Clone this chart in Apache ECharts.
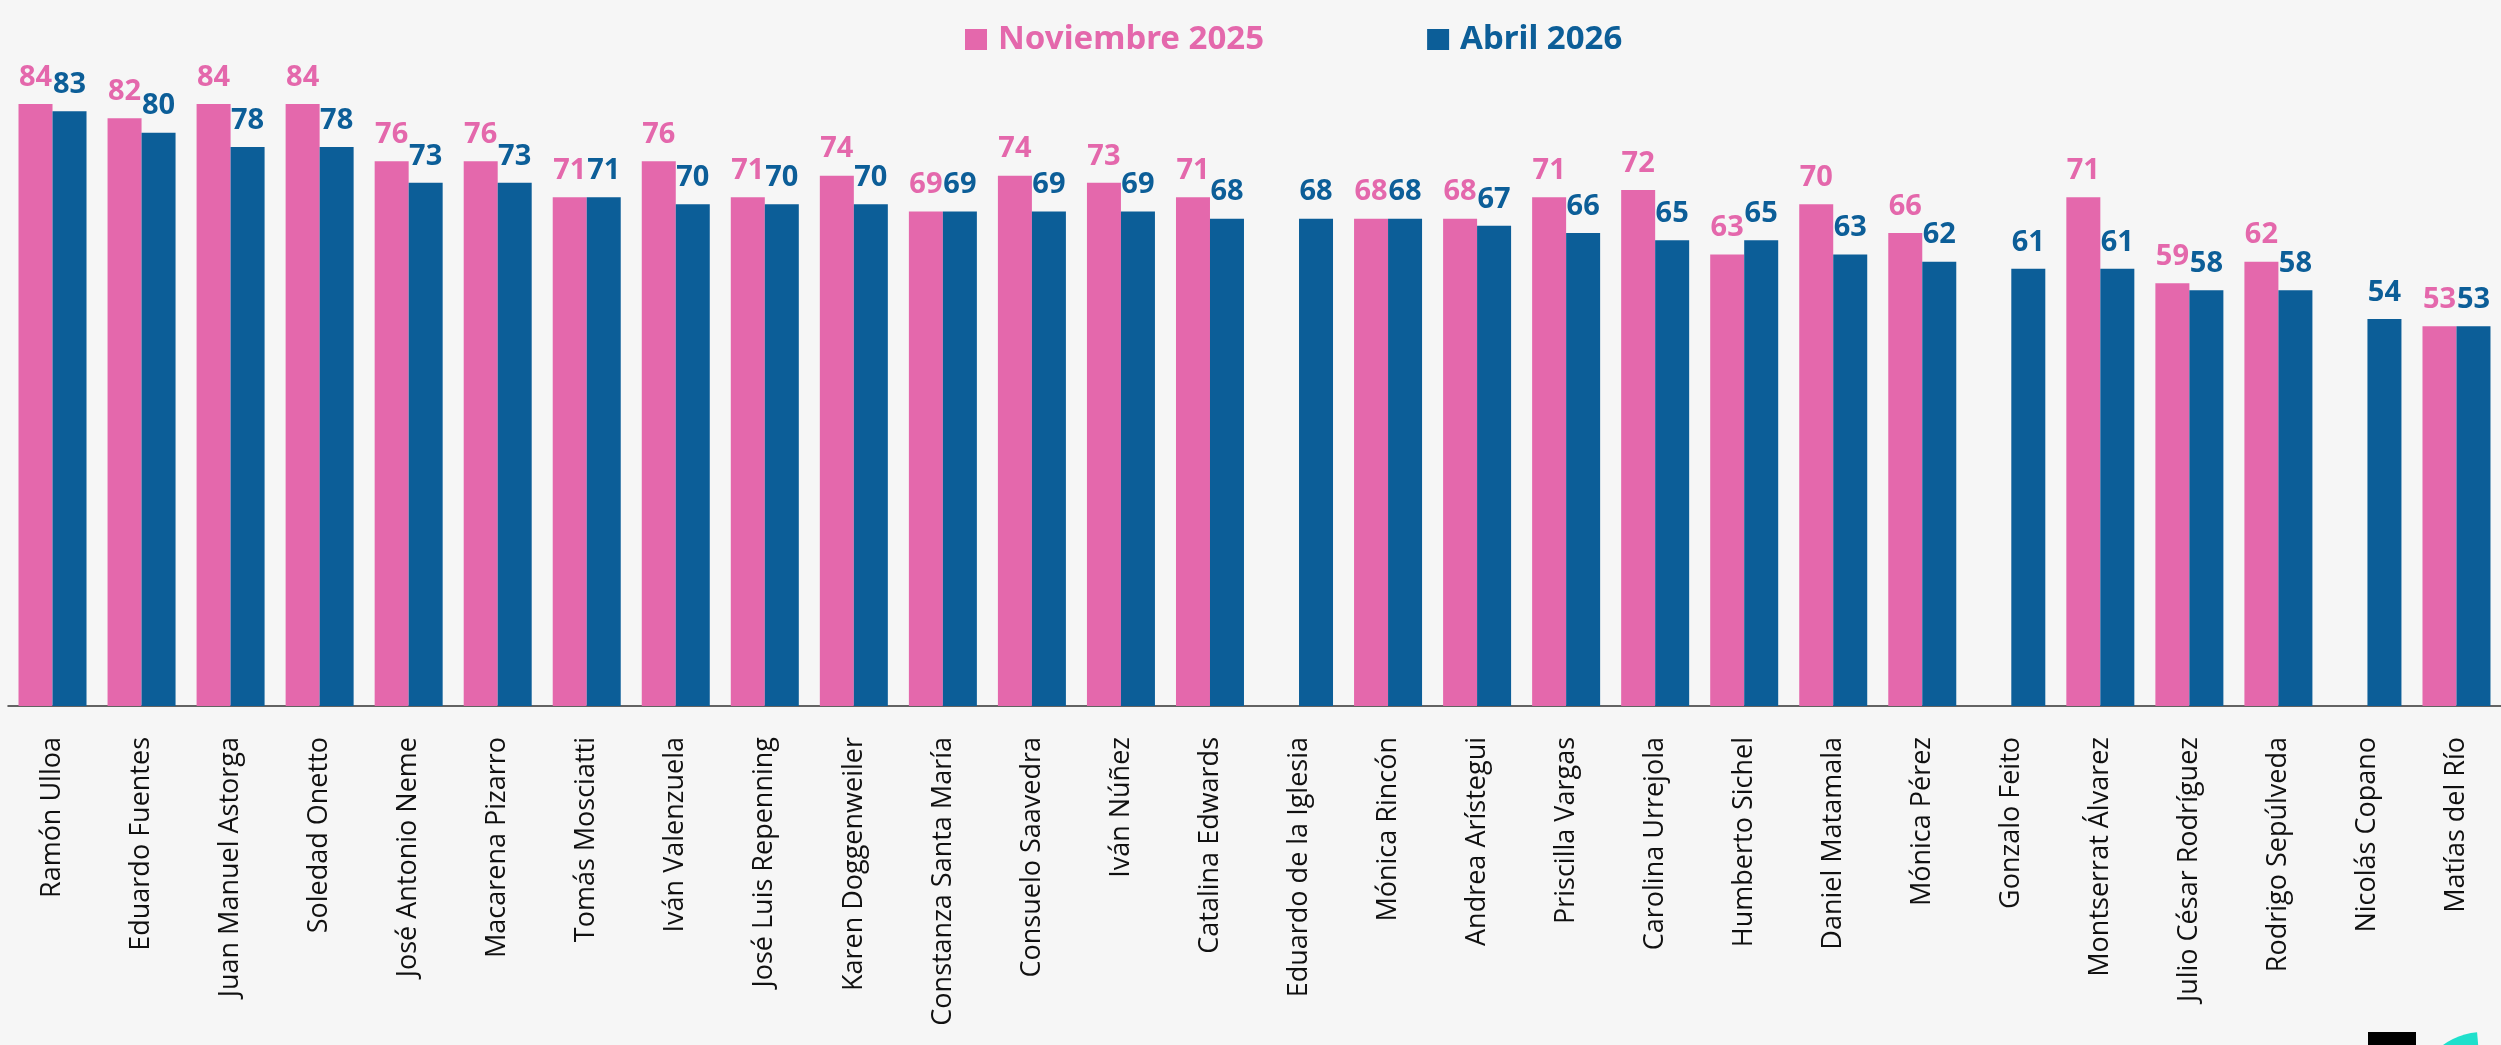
<!DOCTYPE html>
<html>
<head>
<meta charset="utf-8">
<script src="https://cdn.jsdelivr.net/npm/echarts@6/dist/echarts.min.js"></script>
<style>
	html, body { margin: 0; padding: 0; background: #f6f6f6; }
	#chart { width: 2501px; height: 1045px; }
</style>
</head>
<body>
<div id="chart"></div>
<script>
// Names on the x axis
const names = [
	'Ramón Ulloa', 'Eduardo Fuentes', 'Juan Manuel Astorga', 'Soledad Onetto',
	'José Antonio Neme', 'Macarena Pizarro', 'Tomás Mosciatti', 'Iván Valenzuela',
	'José Luis Repenning', 'Karen Doggenweiler', 'Constanza Santa María', 'Consuelo Saavedra',
	'Iván Núñez', 'Catalina Edwards', 'Eduardo de la Iglesia', 'Mónica Rincón',
	'Andrea Arístegui', 'Priscilla Vargas', 'Carolina Urrejola', 'Humberto Sichel',
	'Daniel Matamala', 'Mónica Pérez', 'Gonzalo Feito', 'Montserrat Álvarez',
	'Julio César Rodríguez', 'Rodrigo Sepúlveda', 'Nicolás Copano', 'Matías del Río'
]

// '-' = not measured in that round
const nov2025 = [84, 82, 84, 84, 76, 76, 71, 76, 71, 74, 69, 74, 73, 71, '-', 68, 68, 71, 72, 63, 70, 66, '-', 71, 59, 62, '-', 53]
const abr2026 = [83, 80, 78, 78, 73, 73, 71, 70, 70, 70, 69, 69, 69, 68, 68, 68, 67, 66, 65, 65, 63, 62, 61, 61, 58, 58, 54, 53]

const PINK = '#e468ac'
const BLUE = '#0c5e98'

const chart = echarts.init(document.getElementById('chart'))

const barLabel = (color) => ({
	show: true,
	position: 'top',
	distance: 12,
	color: color,
	fontFamily: 'Noto Sans',
	fontWeight: 'bold',
	fontSize: 29
})

const option = {
	backgroundColor: '#f6f6f6',
	animation: false,
	legend: {
		left: 960,
		top: 18,
		itemWidth: 22,
		itemHeight: 21,
		itemGap: 163,
		icon: 'rect',
		textStyle: {
			fontFamily: 'Noto Sans',
			fontWeight: 'bold',
			fontSize: 33,
			padding: [0, 0, 0, 6]
		},
		data: [
			{ name: 'Noviembre 2025', textStyle: { color: PINK } },
			{ name: 'Abril 2026', textStyle: { color: BLUE } }
		]
	},
	grid: {
		left: 8,
		width: 2502,
		top: 61,
		bottom: 339
	},
	xAxis: {
		type: 'category',
		data: names,
		axisLine: { lineStyle: { color: '#333', width: 1.5 } },
		axisTick: { length: 10, interval: 0, lineStyle: { color: '#333', width: 1.5 } },
		axisLabel: {
			interval: 0,
			rotate: 90,
			margin: 31,
			color: '#111',
			fontFamily: 'Open Sans',
			fontSize: 27
		}
	},
	yAxis: {
		type: 'value',
		min: 0,
		max: 90,
		show: false,
		splitLine: { show: false }
	},
	series: [
		{
			name: 'Noviembre 2025',
			type: 'bar',
			data: nov2025,
			barWidth: 34,
			barGap: '0%',
			itemStyle: { color: PINK },
			label: barLabel(PINK)
		},
		{
			name: 'Abril 2026',
			type: 'bar',
			data: abr2026,
			barWidth: 34,
			barGap: '0%',
			itemStyle: { color: BLUE },
			label: barLabel(BLUE)
		}
	],
	graphic: [
		// logo corner, bottom right
		{ type: 'rect', shape: { x: 2368, y: 1032, width: 48, height: 20 }, style: { fill: '#000' } },
		{
			type: 'sector',
			shape: { cx: 2483, cy: 1100, r: 68, startAngle: Math.PI, endAngle: Math.PI * 265 / 180 },
			style: { fill: '#1fe0cc' }
		}
	]
}

chart.setOption(option)
</script>
</body>
</html>
